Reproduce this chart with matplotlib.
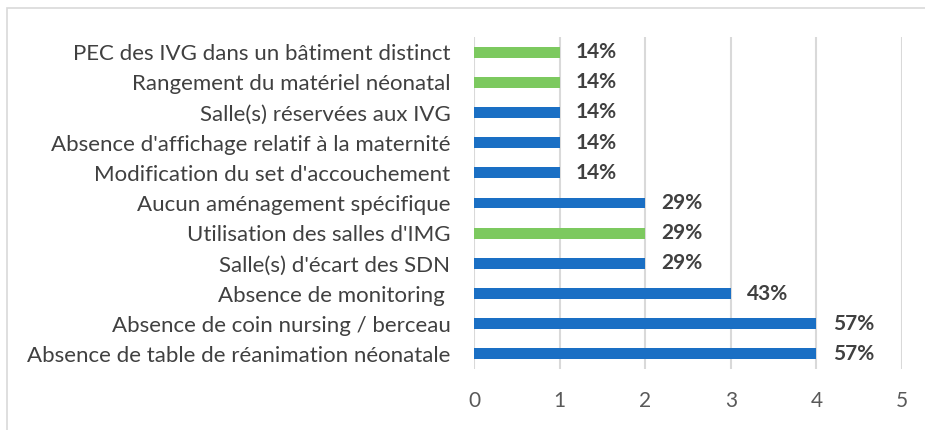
import matplotlib.pyplot as plt
from matplotlib.patches import Rectangle

# données (du haut vers le bas)
categories = [
    "PEC des IVG dans un bâtiment distinct",
    "Rangement du matériel néonatal",
    "Salle(s) réservées aux IVG",
    "Absence d'affichage relatif à la maternité",
    "Modification du set d'accouchement",
    "Aucun aménagement spécifique",
    "Utilisation des salles d'IMG",
    "Salle(s) d'écart des SDN",
    "Absence de monitoring ",
    "Absence de coin nursing / berceau",
    "Absence de table de réanimation néonatale",
]
values = [1, 1, 1, 1, 1, 2, 2, 2, 3, 4, 4]
pct_labels = ["14%", "14%", "14%", "14%", "14%", "29%", "29%", "29%", "43%", "57%", "57%"]
is_green = [True, True, False, False, False, False, True, False, False, False, False]

blue = "#1A6FC4"
green = "#7CC95F"
colors = [green if g else blue for g in is_green]

plt.rcParams['font.family'] = ['Lato', 'DejaVu Sans']

fig = plt.figure(figsize=(9.25, 4.30), dpi=100)
ax = fig.add_axes([474 / 925, 1 - 369 / 430, (902 - 474) / 925, (369 - 37) / 430])

# cadre gris autour du graphique
fig.patches.append(Rectangle((7 / 925, -0.1), 1.2, (430 - 8) / 430 + 0.1,
                             transform=fig.transFigure, fill=False,
                             edgecolor='#D9D9D9', linewidth=1.2))

y = list(range(len(categories)))[::-1]
ax.barh(y, values, height=0.36, color=colors, zorder=3)

for yi, v, lab in zip(y, values, pct_labels):
    ax.text(v + 0.19, yi, lab, va='center', ha='left', fontsize=15,
            fontweight='bold', color='#404040')

ax.set_xlim(0, 5)
ax.set_ylim(-0.5, len(categories) - 0.5)
ax.set_xticks(range(6))
ax.set_yticks(y)
ax.set_yticklabels(categories, fontsize=16, color='#404040')
ax.tick_params(axis='x', labelsize=15, labelcolor='#595959', length=0, pad=16)
ax.tick_params(axis='y', length=0, pad=17)
ax.grid(axis='x', color='#D9D9D9', linewidth=1.5, zorder=0)
for s in ax.spines.values():
    s.set_visible(False)

fig.savefig('out.png', dpi=100)
